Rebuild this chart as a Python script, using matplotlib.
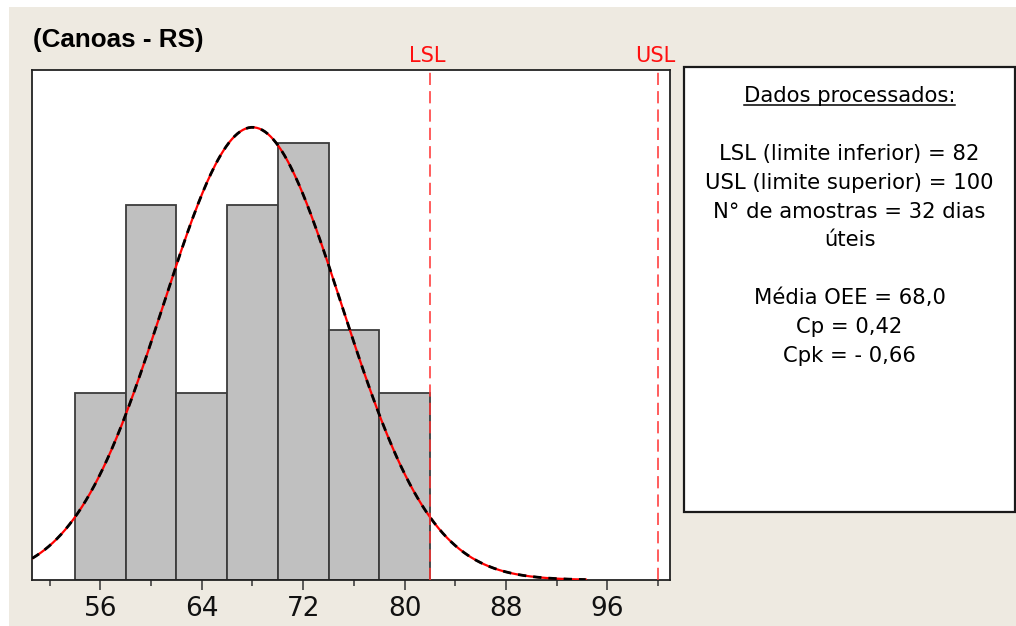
import os
import numpy as np
import matplotlib
matplotlib.use("Agg")
import matplotlib.pyplot as plt
from matplotlib.patches import Rectangle
from matplotlib.lines import Line2D
from matplotlib import font_manager as fm

# ---- data ----
bin_edges = [54, 58, 62, 66, 70, 74, 78, 82]
counts = [3, 6, 3, 6, 7, 4, 3]
mean_oee = 68.0
sigma = 7.05
n_samples = 32
lsl = 82
usl = 100
xticks_major = [56, 64, 72, 80, 88, 96]
xticks_minor = [52, 60, 68, 76, 84, 92, 100]
title = "(Canoas - RS)"
box_title = "Dados processados:"
box_lines = ["LSL (limite inferior) = 82",
             "USL (limite superior) = 100",
             "N° de amostras = 32 dias",
             "úteis",
             "",
             "Média OEE = 68,0",
             "Cp = 0,42",
             "Cpk = - 0,66"]

W, H = 1016, 626
BEIGE = "#EEEAE1"
fig = plt.figure(figsize=(W / 100, H / 100), dpi=100, facecolor="white")

def fx(px):
    return px / W

def fy(py):
    return 1 - py / H

# title font: regular-width Liberation Sans Bold (Arial metric)
title_fp = None
for f in fm.findSystemFonts():
    if os.path.basename(f).lower() == "liberationsans-bold.ttf":
        title_fp = fm.FontProperties(fname=f, size=18.7)
        break
if title_fp is None:
    title_fp = fm.FontProperties(family="DejaVu Sans", weight="bold", size=17)

# beige background panel
fig.patches.append(Rectangle((fx(9), 0), 1 - fx(9), fy(7), transform=fig.transFigure,
                             facecolor=BEIGE, edgecolor="none", zorder=-10))

ax = fig.add_axes([fx(32), fy(580), fx(670) - fx(32), fy(70) - fy(580)])
ax.set_zorder(2)
ax.set_facecolor("white")

widths = np.diff(bin_edges)
ax.bar(bin_edges[:-1], counts, width=widths, align="edge", color="#C0C0C0",
       edgecolor="#3c3c3c", linewidth=1.3, zorder=2)

xs = np.linspace(50.6, 94.3, 400)
scale = n_samples * widths[0]
ys = scale / (sigma * np.sqrt(2 * np.pi)) * np.exp(-0.5 * ((xs - mean_oee) / sigma) ** 2)
ax.plot(xs, ys, color="red", lw=1.6, zorder=3)
ax.plot(xs, ys, color="black", lw=2.0, ls=(0, (3, 2.5)), zorder=4)

for v, lab in [(lsl, "LSL"), (usl, "USL")]:
    ax.axvline(v, color="#FF3030", lw=1.1, ls=(0, (8, 4)), zorder=5)
    ax.text(v - 0.2, 1.0 + 8 / 510, lab, transform=ax.get_xaxis_transform(), ha="center",
            va="baseline", color="#FF1010", fontsize=15, family="DejaVu Sans")

ax.set_xlim(50.6, 100.95)
ax.set_ylim(0, 8.16)
ax.set_yticks([])
ax.set_xticks(xticks_major)
ax.set_xticks(xticks_minor, minor=True)
ax.tick_params(axis="x", which="major", length=7.5, width=1.1, color="#333333",
               labelsize=19, labelcolor="#111111", pad=4)
ax.tick_params(axis="x", which="minor", length=4.5, width=1.1, color="#333333")
for lbl in ax.get_xticklabels():
    lbl.set_family("DejaVu Sans")
for s in ax.spines.values():
    s.set_color("#222222")
    s.set_linewidth(1.3)

fig.text(fx(33), fy(47.5), title, ha="left", va="baseline", fontproperties=title_fp,
         color="black")

# info box
bx0, by0, bx1, by1 = 684, 67, 1015, 512
fig.patches.append(Rectangle((fx(bx0), fy(by1)), fx(bx1) - fx(bx0), fy(by0) - fy(by1),
                             transform=fig.transFigure, facecolor="white",
                             edgecolor="#1a1a1a", linewidth=1.6, zorder=1))
cx = fx((bx0 + bx1) / 2)
t = fig.text(cx, fy(102), box_title, ha="center", va="baseline", fontsize=15.2,
             family="DejaVu Sans", color="black")
y0 = 160
for i, line in enumerate(box_lines):
    if line:
        fig.text(cx, fy(y0 + i * 28.8), line, ha="center", va="baseline",
                 fontsize=15.2, family="DejaVu Sans", color="black")

fig.canvas.draw()
bb = t.get_window_extent()
fig.add_artist(Line2D([bb.x0 / W, bb.x1 / W], [fy(105), fy(105)], transform=fig.transFigure,
                      color="black", lw=1.1))

fig.savefig("out.png", dpi=100, facecolor="white")
